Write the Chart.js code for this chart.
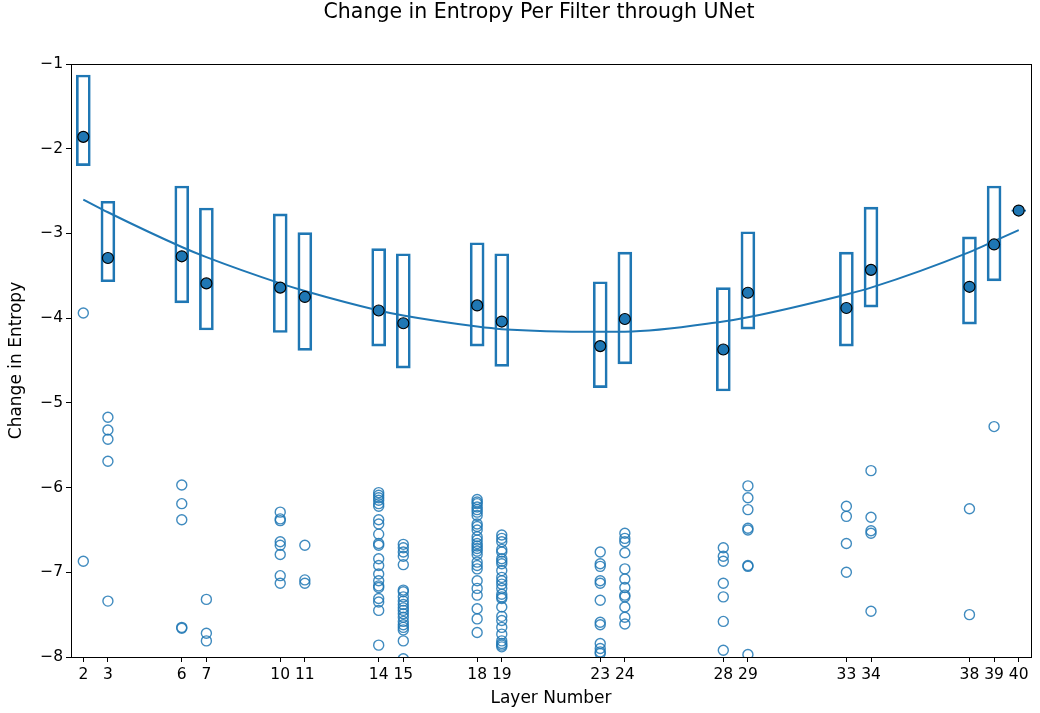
<!DOCTYPE html>
<html>
<head>
<meta charset="utf-8">
<script src="https://cdn.jsdelivr.net/npm/chart.js@4/dist/chart.umd.min.js"></script>
<style>
  html, body { margin: 0; padding: 0; background: #fff; }
  #wrap { width: 1040px; height: 713px; }
</style>
</head>
<body>
<div id="wrap"><canvas id="myChart" width="1040" height="713"></canvas></div>
<script>
// layer positions on the x axis (also the tick labels)
var layers = [2, 3, 6, 7, 10, 11, 14, 15, 18, 19, 23, 24, 28, 29, 33, 34, 38, 39, 40];

// box edges (quartiles) and medians per layer
var boxLow = [-2.20, -3.57, -3.82, -4.14, -4.17, -4.38, -4.33, -4.59, -4.33, -4.57,
              -4.82, -4.54, -4.86, -4.13, -4.33, -3.87, -4.07, -3.56, -2.74];
var boxHigh = [-1.13, -2.62, -2.44, -2.70, -2.77, -2.99, -3.18, -3.24, -3.11, -3.24,
               -3.57, -3.22, -3.64, -2.98, -3.22, -2.69, -3.04, -2.44, -2.72];
var medians = [-1.86, -3.29, -3.27, -3.59, -3.64, -3.75, -3.91, -4.06, -3.85, -4.04,
               -4.33, -4.01, -4.37, -3.70, -3.88, -3.43, -3.63, -3.13, -2.73];

// fitted trend, read at each layer
var trend = [-2.60, -2.75, -3.16, -3.28, -3.59, -3.68, -3.91, -3.97, -4.10, -4.13,
             -4.16, -4.16, -4.04, -3.99, -3.72, -3.64, -3.22, -3.09, -2.96];

// outliers per layer (same order as layers)
var outliers = [
  [-3.94, -6.87],
  [-5.17, -5.32, -5.43, -5.69, -7.34],
  [-5.97, -6.19, -6.38, -7.65, -7.66],
  [-7.32, -7.72, -7.81],
  [-6.29, -6.37, -6.39, -6.64, -6.68, -6.79, -7.04, -7.13],
  [-6.68, -7.09, -7.13],
  [-6.06, -6.09, -6.12, -6.15, -6.19, -6.22, -6.38, -6.43, -6.55, -6.66, -6.68, -6.84,
   -6.92, -7.02, -7.10, -7.16, -7.18, -7.31, -7.35, -7.45, -7.86],
  [-6.67, -6.71, -6.76, -6.81, -6.91, -7.21, -7.23, -7.29, -7.34, -7.38, -7.42, -7.45,
   -7.49, -7.53, -7.58, -7.62, -7.65, -7.68, -7.81, -8.02],
  [-6.14, -6.17, -6.19, -6.23, -6.26, -6.29, -6.33, -6.43, -6.46, -6.50, -6.58, -6.62,
   -6.66, -6.69, -6.72, -6.75, -6.79, -6.88, -6.92, -6.96, -7.10, -7.19, -7.27, -7.43,
   -7.55, -7.71],
  [-6.56, -6.60, -6.64, -6.73, -6.76, -6.84, -6.87, -6.90, -6.98, -7.06, -7.10, -7.14,
   -7.19, -7.26, -7.29, -7.31, -7.41, -7.52, -7.57, -7.65, -7.73, -7.81, -7.84, -7.86, -7.88],
  [-6.76, -6.90, -6.93, -7.10, -7.13, -7.33, -7.59, -7.62, -7.84, -7.90, -7.94, -7.96],
  [-6.54, -6.60, -6.64, -6.77, -6.96, -7.08, -7.18, -7.27, -7.29, -7.41, -7.53, -7.61],
  [-6.71, -6.81, -6.87, -7.13, -7.29, -7.58, -7.92],
  [-5.98, -6.12, -6.26, -6.48, -6.50, -6.92, -6.93, -7.97],
  [-6.22, -6.34, -6.66, -7.00],
  [-5.80, -6.35, -6.51, -6.54, -7.46],
  [-6.25, -7.50],
  [-5.28],
  []
];

var yTicks = [-8, -7, -6, -5, -4, -3, -2, -1];

var titleText = 'Change in Entropy Per Filter through UNet';
var blue = '#1f77b4';
var font = 'DejaVu Sans';

function minus(v) {
    return String(v).replace('-', '\u2212');
}

// build the point lists for the library
var boxData = [];
var medianData = [];
var trendData = [];
var outlierData = [];
for (var i = 0; i < layers.length; i++) {
    boxData.push({x: layers[i], y: [boxLow[i], boxHigh[i]]});
    medianData.push({x: layers[i], y: medians[i]});
    trendData.push({x: layers[i], y: trend[i]});
    for (var j = 0; j < outliers[i].length; j++) {
        outlierData.push({x: layers[i], y: outliers[i][j]});
    }
}

// four-sided frame like matplotlib spines, plus the title above it
var frame = {
    id: 'frame',
    afterDraw: function(chart) {
        var a = chart.chartArea;
        var ctx = chart.ctx;
        ctx.save();
        ctx.strokeStyle = '#000';
        ctx.lineWidth = 1;
        ctx.strokeRect(a.left + 0.5, a.top + 0.5, a.right - a.left, a.bottom - a.top);

        ctx.fillStyle = '#000';
        ctx.font = '20.5px "' + font + '"';
        ctx.textAlign = 'center';
        ctx.textBaseline = 'middle';
        ctx.fillText(titleText, 539, 13);
        ctx.restore();
    }
};

var ctx = document.getElementById('myChart').getContext('2d');
var myChart = new Chart(ctx, {
    type: 'scatter',
    data: {
        datasets: [{
            type: 'scatter',
            label: 'medians',
            data: medianData,
            order: 0,
            pointRadius: 5.5,
            pointBackgroundColor: blue,
            pointBorderColor: '#000',
            pointBorderWidth: 1.2
        }, {
            type: 'line',
            label: 'trend',
            data: trendData,
            order: 1,
            borderColor: blue,
            borderWidth: 2,
            pointRadius: 0,
            cubicInterpolationMode: 'monotone',
            fill: false
        }, {
            type: 'bar',
            label: 'boxes',
            data: boxData,
            order: 2,
            barThickness: 14,
            borderSkipped: false,
            borderWidth: 2,
            borderColor: blue,
            backgroundColor: 'rgba(0,0,0,0)'
        }, {
            type: 'scatter',
            label: 'outliers',
            data: outlierData,
            order: 3,
            pointRadius: 5,
            pointBackgroundColor: 'rgba(0,0,0,0)',
            pointBorderColor: 'rgba(31,119,180,0.85)',
            pointBorderWidth: 1.4
        }]
    },
    options: {
        responsive: false,
        animation: false,
        layout: { padding: { left: 0, right: 9, top: 64, bottom: 0 } },
        plugins: {
            legend: { display: false },
            tooltip: { enabled: false },
            title: { display: false }
        },
        scales: {
            x: {
                type: 'linear',
                min: 1.5,
                max: 40.5,
                offset: false,
                afterBuildTicks: function(axis) {
                    axis.ticks = layers.map(function(v) { return {value: v}; });
                },
                afterFit: function(axis) { axis.height = 56; },
                grid: { display: true, offset: false, drawOnChartArea: false, tickLength: 5, tickColor: '#000' },
                border: { color: '#000' },
                ticks: {
                    autoSkip: false,
                    maxRotation: 0,
                    color: '#000',
                    padding: 4,
                    font: { family: font, size: 15.5 }
                },
                title: {
                    display: true,
                    text: 'Layer Number',
                    color: '#000',
                    font: { family: font, size: 17 },
                    padding: { top: 0, bottom: 4 }
                }
            },
            y: {
                min: -8,
                max: -1,
                afterBuildTicks: function(axis) {
                    axis.ticks = yTicks.map(function(v) { return {value: v}; });
                },
                afterFit: function(axis) { axis.width = 71; },
                grid: { display: true, drawOnChartArea: false, tickLength: 5, tickColor: '#000' },
                border: { color: '#000' },
                ticks: {
                    color: '#000',
                    padding: 3,
                    font: { family: font, size: 15.5 },
                    callback: function(v) { return minus(v); }
                },
                title: {
                    display: true,
                    text: 'Change in Entropy',
                    color: '#000',
                    font: { family: font, size: 17 },
                    padding: { top: 6, bottom: 0 }
                }
            }
        }
    },
    plugins: [frame]
});
</script>
</body>
</html>
